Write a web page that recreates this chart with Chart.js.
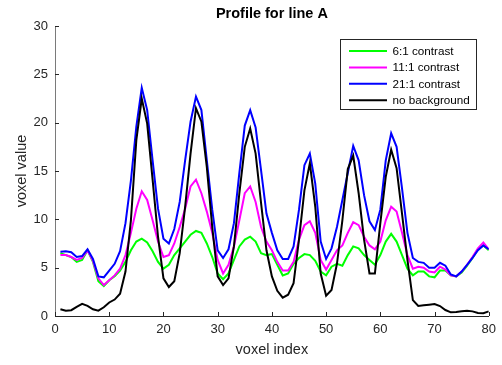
<!DOCTYPE html>
<html>
<head>
<meta charset="utf-8">
<title>Profile for line A</title>
<script src="https://cdn.jsdelivr.net/npm/chart.js@4.4.1/dist/chart.umd.min.js"></script>
<style>
  html, body { margin: 0; padding: 0; background: #ffffff; }
  #wrap { width: 502px; height: 365px; }
</style>
</head>
<body>
<div id="wrap"><canvas id="profile" width="502" height="365"></canvas></div>
<script>
// Voxel positions along line A
const voxelIndex = [
   1,  2,  3,  4,  5,  6,  7,  8,  9, 10, 11, 12, 13, 14, 15, 16, 17, 18, 19, 20,
  21, 22, 23, 24, 25, 26, 27, 28, 29, 30, 31, 32, 33, 34, 35, 36, 37, 38, 39, 40,
  41, 42, 43, 44, 45, 46, 47, 48, 49, 50, 51, 52, 53, 54, 55, 56, 57, 58, 59, 60,
  61, 62, 63, 64, 65, 66, 67, 68, 69, 70, 71, 72, 73, 74, 75, 76, 77, 78, 79, 80
];

// Profile values for each background contrast
const contrast6 = [
  6.5, 6.3, 6.1, 5.6, 5.8, 6.8, 5.6, 3.6, 3.1, 3.7, 4.1, 4.7, 5.6, 6.8, 7.7, 8.0, 7.6, 6.7, 5.6, 4.9,
  5.3, 6.3, 7.0, 7.7, 8.4, 8.8, 8.6, 7.5, 6.1, 4.4, 3.8, 4.4, 5.8, 7.2, 7.9, 8.2, 7.7, 6.5, 6.3, 6.4,
  5.3, 4.2, 4.4, 5.4, 6.0, 6.4, 6.3, 5.7, 4.6, 4.2, 5.1, 5.4, 5.2, 6.3, 7.2, 7.0, 6.3, 5.8, 5.3, 6.3,
  7.7, 8.5, 7.7, 6.3, 4.9, 4.2, 4.6, 4.6, 4.1, 4.0, 4.7, 4.7, 4.2, 4.1, 4.5, 5.2, 6.0, 6.9, 7.3, 6.8
];
const contrast11 = [
  6.3, 6.3, 6.1, 5.8, 6.0, 6.8, 5.7, 3.9, 3.2, 3.7, 4.2, 4.9, 6.3, 8.6, 11.1, 12.9, 12.0, 9.9, 7.7, 6.1,
  6.3, 7.5, 9.2, 11.1, 13.4, 14.1, 12.7, 10.8, 8.6, 5.8, 4.4, 5.3, 7.2, 9.9, 12.7, 13.4, 11.8, 9.2, 7.7, 6.8,
  5.6, 4.7, 4.7, 5.6, 7.9, 9.4, 9.8, 8.6, 5.8, 4.8, 5.8, 6.8, 7.3, 8.6, 9.7, 9.4, 8.2, 7.3, 6.9, 7.7,
  9.9, 11.3, 10.8, 8.6, 6.3, 4.9, 5.1, 5.0, 4.6, 4.5, 5.1, 4.8, 4.2, 4.1, 4.6, 5.3, 6.1, 7.0, 7.6, 6.9
];
const contrast21 = [
  6.65, 6.7, 6.6, 6.1, 6.2, 6.9, 5.9, 4.1, 4.0, 4.7, 5.4, 6.7, 9.6, 14.0, 19.6, 23.6, 21.3, 16.1, 11.1, 8.0,
  7.5, 9.0, 11.8, 16.1, 20.1, 22.7, 21.3, 16.1, 11.0, 6.8, 6.0, 6.9, 9.6, 14.8, 19.7, 21.3, 19.5, 15.1, 10.6, 8.6,
  6.8, 5.9, 5.9, 7.2, 11.0, 15.6, 16.8, 13.7, 7.7, 5.9, 7.0, 9.2, 12.0, 14.8, 17.6, 16.1, 12.5, 9.8, 8.9, 11.0,
  16.1, 18.9, 17.5, 13.2, 8.6, 6.0, 5.6, 5.5, 5.0, 5.0, 5.5, 5.2, 4.3, 4.1, 4.6, 5.3, 6.0, 6.8, 7.3, 6.9
];
const noBackground = [
  0.7, 0.55, 0.6, 0.95, 1.25, 1.05, 0.7, 0.55, 0.9, 1.4, 1.7, 2.3, 4.6, 9.9, 18.2, 22.5, 19.9, 14.1, 8.2, 3.9,
  3.0, 3.6, 6.5, 11.3, 16.8, 21.5, 20.1, 15.4, 9.2, 4.1, 3.2, 3.9, 7.2, 12.7, 17.5, 19.4, 16.8, 11.7, 6.8, 4.1,
  2.6, 1.9, 2.2, 3.4, 7.9, 13.0, 15.8, 11.3, 4.4, 2.1, 2.7, 5.4, 9.9, 15.2, 16.6, 12.7, 7.9, 4.4, 4.4, 9.6,
  14.4, 17.2, 15.3, 10.6, 5.8, 1.65, 1.03, 1.1, 1.17, 1.24, 1.03, 0.62, 0.38, 0.41, 0.48, 0.55, 0.48, 0.31, 0.28, 0.48
];

const seriesNames = ['6:1 contrast', '11:1 contrast', '21:1 contrast', 'no background'];
const xTickValues = [0, 10, 20, 30, 40, 50, 60, 70, 80];
const yTickValues = [0, 5, 10, 15, 20, 25, 30];

const FONT = "'Liberation Sans', Arial, Helvetica, sans-serif";
const AXIS_INK = '#262626';

function toPoints(values) {
  return values.map((v, i) => ({ x: voxelIndex[i], y: v }));
}

// Title centred over the plotting area
const plotTitle = {
  id: 'plotTitle',
  afterDraw(chart) {
    const { ctx, chartArea } = chart;
    ctx.save();
    ctx.font = `bold 14.5px ${FONT}`;
    ctx.fillStyle = '#000000';
    ctx.textAlign = 'center';
    ctx.textBaseline = 'middle';
    ctx.fillText('Profile for line A', (chartArea.left + chartArea.right) / 2, 13.5);
    ctx.restore();
  }
};

// Short inward tick marks on both axes
const inwardTicks = {
  id: 'inwardTicks',
  afterDraw(chart) {
    const { ctx, chartArea, scales } = chart;
    ctx.save();
    ctx.strokeStyle = AXIS_INK;
    ctx.lineWidth = 1;
    ctx.beginPath();
    xTickValues.forEach(v => {
      const px = Math.round(scales.x.getPixelForValue(v)) + 0.5;
      ctx.moveTo(px, chartArea.bottom);
      ctx.lineTo(px, chartArea.bottom - 4);
    });
    yTickValues.forEach(v => {
      const py = Math.round(scales.y.getPixelForValue(v)) + 0.5;
      ctx.moveTo(chartArea.left, py);
      ctx.lineTo(chartArea.left + 4, py);
    });
    ctx.stroke();
    ctx.restore();
  }
};

// Boxed legend in the upper right of the plot
const boxedLegend = {
  id: 'boxedLegend',
  afterDraw(chart) {
    const { ctx } = chart;
    const box = { x: 340.5, y: 39.5, w: 136, h: 70 };
    ctx.save();
    ctx.fillStyle = '#ffffff';
    ctx.fillRect(box.x, box.y, box.w, box.h);
    ctx.strokeStyle = AXIS_INK;
    ctx.lineWidth = 1;
    ctx.strokeRect(box.x, box.y, box.w, box.h);
    ctx.font = `11.7px ${FONT}`;
    ctx.textAlign = 'left';
    ctx.textBaseline = 'middle';
    chart.data.datasets.forEach((ds, i) => {
      const cy = 51 + i * 16.4;
      ctx.strokeStyle = ds.borderColor;
      ctx.lineWidth = 2;
      ctx.beginPath();
      ctx.moveTo(349, cy);
      ctx.lineTo(387, cy);
      ctx.stroke();
      ctx.fillStyle = '#000000';
      ctx.fillText(ds.label, 392.5, cy + 0.5);
    });
    ctx.restore();
  }
};

const lineStyle = { pointRadius: 0, borderWidth: 2, tension: 0, fill: false };

new Chart(document.getElementById('profile'), {
  type: 'line',
  data: {
    datasets: [
      { label: seriesNames[0], data: toPoints(contrast6),    borderColor: '#00ff00', order: 3, ...lineStyle },
      { label: seriesNames[1], data: toPoints(contrast11),   borderColor: '#ff00ff', order: 2, ...lineStyle },
      { label: seriesNames[2], data: toPoints(contrast21),   borderColor: '#0000ff', order: 1, ...lineStyle },
      { label: seriesNames[3], data: toPoints(noBackground), borderColor: '#000000', order: 0, ...lineStyle }
    ]
  },
  options: {
    responsive: false,
    animation: false,
    devicePixelRatio: 1,
    layout: { padding: { top: 26, right: 12, bottom: 0, left: 0 } },
    plugins: {
      legend: { display: false },
      title: { display: false },
      tooltip: { enabled: false }
    },
    scales: {
      x: {
        type: 'linear',
        min: 0,
        max: 80,
        afterFit(scale) { scale.height = 49; },
        afterBuildTicks(scale) { scale.ticks = xTickValues.map(v => ({ value: v })); },
        grid: { display: false, drawTicks: false },
        border: { display: true, color: AXIS_INK, width: 1 },
        ticks: {
          padding: 6,
          color: AXIS_INK,
          font: { family: FONT, size: 13 },
          maxRotation: 0,
          autoSkip: false
        },
        title: {
          display: true,
          text: 'voxel index',
          color: AXIS_INK,
          font: { family: FONT, size: 14.5 },
          padding: { top: 0, bottom: 6 }
        }
      },
      y: {
        type: 'linear',
        min: 0,
        max: 30,
        afterFit(scale) { scale.width = 55; },
        afterBuildTicks(scale) { scale.ticks = yTickValues.map(v => ({ value: v })); },
        grid: { display: false, drawTicks: false },
        border: { display: true, color: '#7a7a7a', width: 1 },
        ticks: {
          padding: 7,
          color: AXIS_INK,
          font: { family: FONT, size: 13 },
          autoSkip: false
        },
        title: {
          display: true,
          text: 'voxel value',
          color: AXIS_INK,
          font: { family: FONT, size: 14.5 },
          padding: { top: 13, bottom: 0 }
        }
      }
    }
  },
  plugins: [inwardTicks, boxedLegend, plotTitle]
});
</script>
</body>
</html>
